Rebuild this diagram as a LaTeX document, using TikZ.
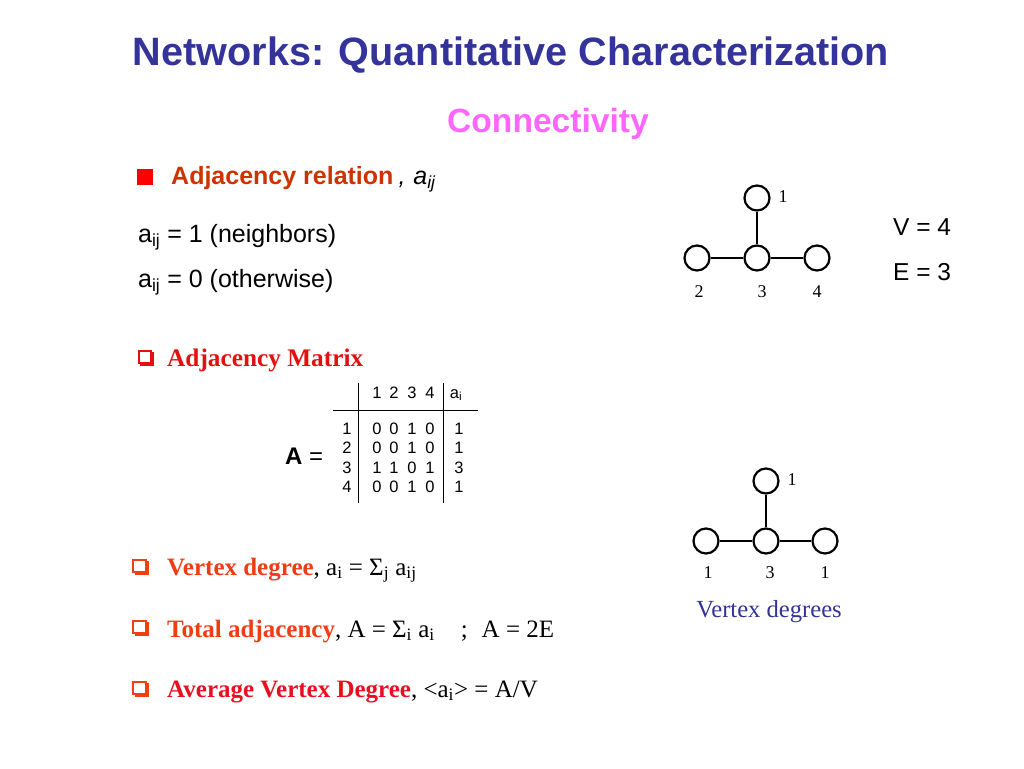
\documentclass[tikz,border=0pt]{standalone}
\usepackage{fontspec}
\setmainfont{Liberation Serif}
\setsansfont{Liberation Sans}
\definecolor{titleblue}{RGB}{51,51,153}
\definecolor{pinkc}{RGB}{255,102,255}
\definecolor{relred}{RGB}{204,51,0}
\definecolor{matred}{RGB}{226,16,16}
\definecolor{bulorange}{RGB}{240,64,16}
\definecolor{vdeg}{RGB}{240,60,20}
\definecolor{avgred}{RGB}{232,16,32}
\begin{document}
\begin{tikzpicture}[x=1pt,y=-1pt,
  every node/.style={inner sep=0pt},
  head/.style={font=\sffamily\bfseries\fontsize{39.6}{44}\selectfont,text=titleblue,anchor=base},
  subhead/.style={font=\sffamily\bfseries\fontsize{33.6}{38}\selectfont,text=pinkc,anchor=base},
  sans/.style={font=\sffamily\fontsize{25}{30}\selectfont,anchor=base west},
  serif/.style={font=\rmfamily\fontsize{25}{30}\selectfont,anchor=base west},
  tab/.style={font=\sffamily\fontsize{16.5}{19}\selectfont,anchor=base},
  vert/.style={circle,draw,line width=2.2pt,minimum size=25pt},
  edge/.style={line width=2.2pt},
  num/.style={font=\rmfamily\fontsize{18}{21}\selectfont},
  qbul/.style={draw=#1,fill=white,line width=1.6pt,minimum size=12.5pt,
    preaction={fill=#1,draw=#1,transform canvas={shift={(2.2pt,-2.2pt)}}}}]
\useasboundingbox (0,0) rectangle (1024,768);
% headings
\node[head] (title) at (511,66) {Networks: Quantitative Characterization};
\node[subhead] (sub) at (548,132) {Connectivity};
% adjacency relation
\node[fill=red,minimum size=16pt] (sq) at (145,176.5) {};
\node[sans] (rel) at (171,184) {{\color{relred}\bfseries Adjacency relation}\hspace{5pt}{\itshape,\hspace{8pt}a\textsubscript{ij}}};
\node[sans] (one) at (138,242) {a\textsubscript{ij} = 1 (neighbors)};
\node[sans] (zero) at (138,287) {a\textsubscript{ij} = 0 (otherwise)};
\node[sans,font=\sffamily\fontsize{24.5}{29}\selectfont] (V) at (893,235) {V = 4};
\node[sans,font=\sffamily\fontsize{24.5}{29}\selectfont] (E) at (893,280) {E = 3};
% graph with vertex numbers
\node[vert] (n1) at (757,198) {};
\node[vert] (n2) at (697,258) {};
\node[vert] (n3) at (757,258) {};
\node[vert] (n4) at (817,258) {};
\draw[edge] (n1) -- (n3) (n2) -- (n3) (n3) -- (n4);
\node[num] (l1) at (783,197) {1};
\node[num] (l2) at (699,292) {2};
\node[num] (l3) at (762,292) {3};
\node[num] (l4) at (817,292) {4};
% adjacency matrix
\node[qbul=matred] (b0) at (145,357) {};
\node[serif,text=matred,font=\rmfamily\bfseries\fontsize{25.3}{30}\selectfont] (mat) at (167,366) {Adjacency Matrix};
\node[sans,font=\sffamily\fontsize{24}{29}\selectfont] (Aeq) at (285,464) {{\bfseries A} =};
\node[tab] (h1) at (377,398) {1};
\node[tab] (h2) at (394,398) {2};
\node[tab] (h3) at (412,398) {3};
\node[tab] (h4) at (430,398) {4};
\node[tab] (hd) at (456,398) {a\textsubscript{i}};
\node[tab] (r1) at (347,434) {1};
\node[tab] (r2) at (347,453.5) {2};
\node[tab] (r3) at (347,473) {3};
\node[tab] (r4) at (347,492.5) {4};
\node[tab] (m11) at (377,434) {0}; \node[tab] (m12) at (394,434) {0}; \node[tab] (m13) at (412,434) {1}; \node[tab] (m14) at (430,434) {0};
\node[tab] (m21) at (377,453.5) {0}; \node[tab] (m22) at (394,453.5) {0}; \node[tab] (m23) at (412,453.5) {1}; \node[tab] (m24) at (430,453.5) {0};
\node[tab] (m31) at (377,473) {1}; \node[tab] (m32) at (394,473) {1}; \node[tab] (m33) at (412,473) {0}; \node[tab] (m34) at (430,473) {1};
\node[tab] (m41) at (377,492.5) {0}; \node[tab] (m42) at (394,492.5) {0}; \node[tab] (m43) at (412,492.5) {1}; \node[tab] (m44) at (430,492.5) {0};
\node[tab] (g1) at (459,434) {1};
\node[tab] (g2) at (459,453.5) {1};
\node[tab] (g3) at (459,473) {3};
\node[tab] (g4) at (459,492.5) {1};
\draw[line width=1pt] (358,383) -- (358,503) (443,383) -- (443,503) (333,410) -- (478,410);
% graph with vertex degrees
\node[vert] (d1) at (766,481) {};
\node[vert] (d2) at (706,541) {};
\node[vert] (d3) at (766,541) {};
\node[vert] (d4) at (825,541) {};
\draw[edge] (d1) -- (d3) (d2) -- (d3) (d3) -- (d4);
\node[num] (k1) at (792,480) {1};
\node[num] (k2) at (708,573) {1};
\node[num] (k3) at (770,573) {3};
\node[num] (k4) at (825,573) {1};
\node[serif,anchor=base,text=titleblue,font=\rmfamily\fontsize{24.6}{29}\selectfont] (deg) at (769,617) {Vertex degrees};
% definitions
\node[qbul=bulorange] (b1) at (139.5,566) {};
\node[serif] (vd) at (167,575) {{\bfseries\color{vdeg}Vertex degree}, a\textsubscript{i} = Σ\textsubscript{j} a\textsubscript{ij}};
\node[qbul=bulorange] (b2) at (139.5,627) {};
\node[serif] (ta) at (167,637) {{\bfseries\color{vdeg}Total adjacency}, A = Σ\textsubscript{i} a\textsubscript{i}\hspace{26pt};\hspace{14pt}A = 2E};
\node[qbul=bulorange] (b3) at (139.5,688) {};
\node[serif] (av) at (167,697) {{\bfseries\color{avgred}Average Vertex Degree}, <a\textsubscript{i}> = A/V};
\end{tikzpicture}
\end{document}
